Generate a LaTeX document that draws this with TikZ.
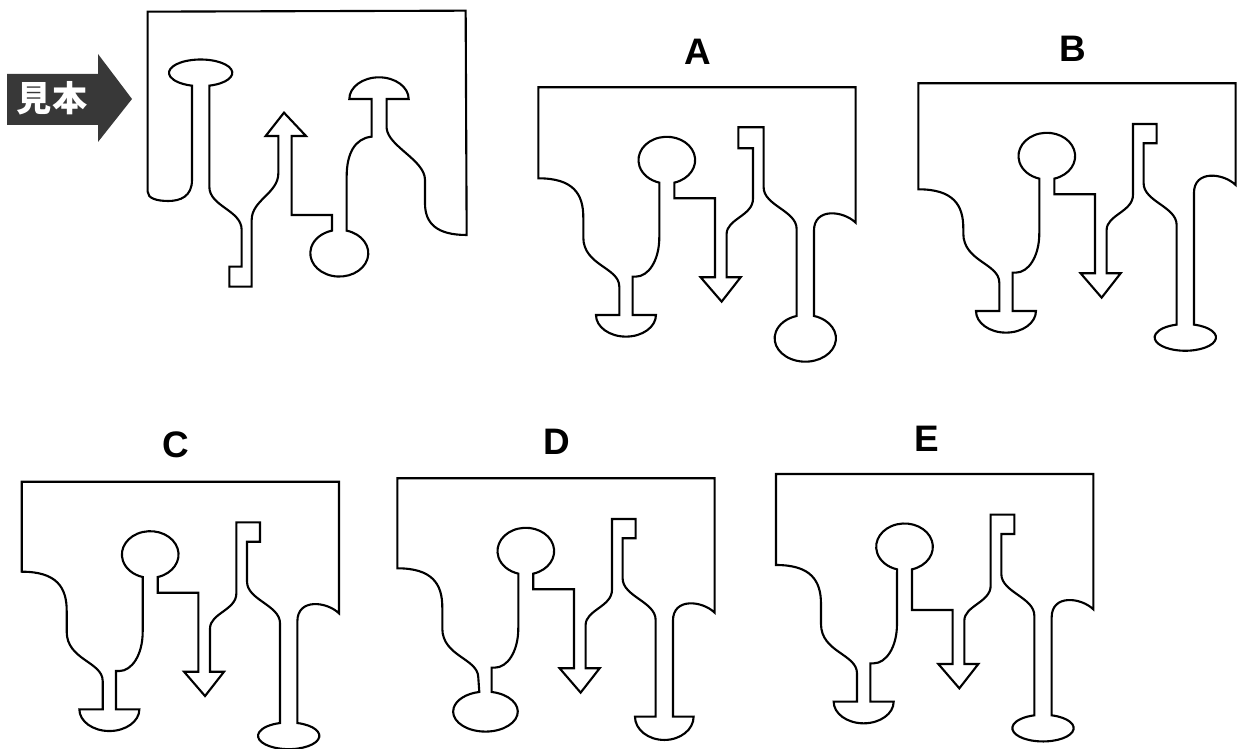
\documentclass[tikz,border=0pt]{standalone}
\usepackage{fontspec}
\setmainfont{Liberation Sans}
\newfontfamily\jpfont{Noto Sans CJK JP}
\usetikzlibrary{positioning}

% one answer card: #1,#2 top-left corner (px), #3 left shoulder, #4 right curl,
% #5 step depth, #6 hook (0 left, 1 right), #7 left foot (0 half, 1 oval), #8 right foot (0 round, 1 flat, 2 half)
\newcommand\optioncard[8]{%
  \ifcase#6\relax
    \def\cardneck{-- (676,300) -- (676,120) -- (600,120) -- (600,183) -- (644,183) -- (644,335)}%
  \or
    \def\cardneck{-- (676,300) -- (676,180) -- (715,180) -- (715,122) -- (644,122) -- (644,335)}%
  \fi
  \ifcase#7\relax
    \def\cardleft{-- (283,683) -- (353,683) arc[start angle=0, delta angle=180, x radius=90, y radius=65] -- (243,683)}%
  \or
    \def\cardleft{-- (283,641) arc[start angle=-79, delta angle=338, x radius=97, y radius=60]}%
  \fi
  \ifcase#8\relax
    \def\cardright{-- (827,686) arc[start angle=-73.6, delta angle=327.2, x radius=92, y radius=70]}%
  \or
    \def\cardright{-- (827,724) arc[start angle=-73.6, delta angle=327.2, x radius=92, y radius=40]}%
  \or
    \def\cardright{-- (827,715) -- (889,715) arc[start angle=0, delta angle=180, x radius=88, y radius=70] -- (775,715)}%
  \fi
  \begin{scope}[shift={(#1,#2)}, scale=1/3]
    \draw[outline] (0,0) -- (952,0) -- (952,#4) .. controls (915,#4-36) and (827,#4-46) .. (827,#4+24)
      \cardright -- (775,425) .. controls (775,370) and (676,355) .. (676,300)
      \cardneck .. controls (644,385) and (565,395) .. (565,440) -- (565,570)
      -- (607,570) -- (550,643) -- (487,570) -- (530,570) -- (530,#5) -- (408,#5) -- (408,286)
      arc[start angle=74.7, delta angle=-329.4, x radius=85, y radius=70]
      -- (363,450) .. controls (363,520) and (330,568) .. (293,568) -- (283,568)
      \cardleft -- (243,598) .. controls (243,540) and (135,535) .. (135,450)
      -- (135,#3+117) .. controls (135,#3+47) and (105,#3) .. (0,#3) -- cycle;
  \end{scope}}

\begin{document}
\begin{tikzpicture}[x=0.02cm, y=-0.02cm,
  outline/.style={line width=1.2pt, line join=miter},
  letter/.style={font=\fontsize{21}{24}\selectfont\bfseries, inner sep=0pt},
  mihontext/.style={font=\jpfont\fontsize{20}{22}\selectfont\bfseries, text=white, inner sep=0pt}]
\useasboundingbox (0,0) rectangle (1241,749);

% sample arrow
\fill[black!78] (7,74) -- (98,74) -- (98,54) -- (132,99) -- (98,142) -- (98,125) -- (7,125) -- cycle;
\node[mihontext] (mihon) at (52,98) {見本};

% sample card
\begin{scope}[scale=1/3]
\draw[outline] (443,35) -- (1397,32) -- (1400,705) .. controls (1310,705) and (1275,670) .. (1275,610)
  -- (1275,540) .. controls (1275,480) and (1165,440) .. (1160,385) -- (1160,297) -- (1226,297)
  arc[start angle=0, delta angle=-180, x radius=89, y radius=65] -- (1115,297) -- (1115,410)
  .. controls (1065,415) and (1040,460) .. (1040,530) -- (1040,692)
  arc[start angle=-75.3, delta angle=330.6, x radius=87, y radius=70] -- (996,645) -- (875,645)
  -- (875,408) -- (918,408) -- (852,338) -- (797,408) -- (835,408) -- (835,520)
  .. controls (835,580) and (755,600) .. (755,660) -- (755,860) -- (688,860) -- (688,800) -- (725,800)
  -- (725,690) .. controls (725,630) and (628,620) .. (628,560) -- (628,257)
  arc[start angle=74.1, delta angle=-328.2, x radius=95, y radius=40] -- (576,540)
  .. controls (576,590) and (540,603) .. (505,603) .. controls (470,603) and (443,595) .. (443,575) -- cycle;
\end{scope}

% answer cards
\optioncard{538.3}{87.3}{273}{406}{333}{0}{0}{0}
\optioncard{918.3}{83.3}{318}{305}{333}{1}{0}{1}
\optioncard{21.7}{481.7}{270}{395}{333}{1}{0}{1}
\optioncard{397.3}{478.3}{270}{403}{333}{1}{1}{2}
\optioncard{776}{474}{273}{406}{408}{1}{0}{1}

\node[letter] (la) at (698,52) {A};
\node[letter] (lb) at (1073,49) {B};
\node[letter] (lc) at (176,445) {C};
\node[letter] (ld) at (557,442) {D};
\node[letter] (le) at (927,439) {E};
\end{tikzpicture}
\end{document}
